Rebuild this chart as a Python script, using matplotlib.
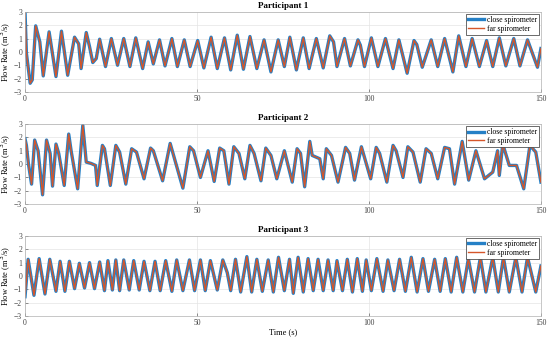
import numpy as np
import matplotlib
matplotlib.use("Agg")
import matplotlib.pyplot as plt

plt.rcParams['font.family'] = ['Liberation Serif', 'DejaVu Serif']

# Participant 1: turning points (time s, flow m^3/s)
t1 = [0, 0.4, 1.5, 2.1, 3.1, 4.3, 5.3, 7.0, 9.0, 10.6, 12.4, 14.4, 15.6, 16.3, 17.8,
      18.75, 19.7, 20.7, 21.7, 23.4, 25.1, 26.9, 28.7, 30.5, 32.2, 34.2, 35.8, 37.3,
      39.1, 40.7, 42.7, 44.3, 46.3, 48.0, 50.2, 52.0, 54.1, 55.9, 58.0, 59.8, 61.7,
      63.5, 65.4, 67.4, 69.5, 71.5, 73.6, 75.4, 77.0, 78.9, 80.9, 82.6, 84.7, 86.7,
      88.6, 89.7, 90.7, 92.9, 94.6, 96.8, 97.5, 98.7, 100.7, 102.6, 104.8, 107.0,
      108.7, 111.1, 113.1, 113.9, 115.5, 118.1, 120.0, 122.0, 124.4, 126.1, 128.2,
      130.0, 132.1, 134.2, 136.0, 137.9, 139.8, 142.1, 143.9, 146.1, 149.0, 150.0]
f1 = [3.0, -0.1, -2.35, -2.1, 1.95, 0.75, -1.8, 1.5, -1.85, 1.55, -1.75, 1.1, 0.6, -1.25, 1.45,
      0.4, -0.8, -0.5, 0.95, -1.1, 1.0, -1.0, 1.0, -1.1, 1.05, -1.25, 0.75, -0.9,
      0.9, -1.05, 1.0, -1.1, 0.9, -1.1, 0.85, -1.2, 1.1, -1.25, 1.05, -1.35, 1.25,
      -1.3, 1.15, -1.25, 0.9, -1.5, 0.9, -1.1, 1.1, -1.35, 1.05, -1.25, 1.0, -1.2,
      1.2, 0.75, -1.1, 1.0, -1.05, 0.9, 0.5, -1.1, 1.05, -1.1, 1.0, -1.25,
      0.9, -1.6, 0.85, 0.55, -1.15, 0.9, -1.1, 1.0, -1.5, 1.2, -1.1,
      1.0, -1.1, 0.85, -1.1, 1.05, -1.05, 1.0, -1.05, 0.9, -1.15, 0.25]

# Participant 2
t2 = [0, 0.4, 1.0, 1.9, 2.8, 3.8, 5.1, 6.25, 7.3, 8.0, 9.0, 9.8, 11.4, 12.7, 13.4, 15.3,
      16.8, 17.8, 19.2, 20.5, 21.0, 22.5, 23.1, 24.8, 26.4, 27.5, 29.3, 31.0, 32.4,
      34.6, 36.5, 37.3, 40.0, 42.2, 45.9, 47.9, 49.0, 51.0, 53.2, 55.0, 56.6, 57.8,
      59.3, 60.7, 62.2, 63.9, 65.4, 66.6, 68.6, 70.0, 71.5, 73.2, 75.4, 77.7, 79.1,
      80.1, 81.3, 82.8, 83.5, 85.7, 86.7, 87.6, 89.1, 91.0, 93.2, 94.4, 95.8, 97.8,
      100.5, 102.1, 103.1, 105.2, 107.0, 107.9, 109.9, 111.3, 112.8, 114.9, 116.6,
      118.1, 120.0, 122.0, 123.4, 124.9, 127.1, 129.0, 131.1, 133.6, 136.0, 137.4,
      137.9, 138.9, 140.8, 142.9, 145.0, 146.8, 148.5, 150.0]
f2 = [1.9, 1.4, 0.0, -1.5, 1.8, 1.0, -2.3, 1.8, 0.8, -1.65, 1.5, 0.8, -1.6, 2.25, 1.0, -1.85,
      2.9, 0.15, 0.05, -0.1, -1.6, 1.4, 1.15, -1.6, 1.4, 0.9, -1.5, 1.15, 0.9,
      -1.1, 1.2, 1.0, -1.25, 1.55, -1.8, 1.3, 1.0, -1.0, 1.0, -1.3, 1.2, 1.0,
      -1.5, 1.3, 0.8, -1.1, 1.4, 0.8, -1.25, 1.2, 0.65, -1.1, 1.0, -1.35, 1.15,
      0.8, -1.7, 1.7, 0.65, 0.4, -1.1, 1.15, 0.65, -1.35, 1.25, 0.8, -1.2, 1.3,
      -1.1, 1.25, 0.8, -1.35, 1.4, 1.0, -1.0, 1.3, 0.9, -1.35, 1.15,
      0.8, -1.1, 1.25, 1.15, -1.5, 1.7, -1.2, 1.0, -1.1, -0.6, 1.0,
      -0.85, 1.5, -0.1, -0.1, -1.85, 1.4, 0.9, -1.35]

# Participant 3
t3 = [0, 0.9, 2.6, 4.1, 5.8, 7.2, 9.0, 10.2, 11.6, 12.9, 14.4, 15.8, 17.3, 18.75, 20.2,
      21.7, 23.1, 24.1, 25.4, 26.4, 27.5, 28.7, 30.3, 31.6, 33.2, 34.6, 36.3, 37.8,
      39.3, 40.9, 42.7, 44.1, 45.9, 47.8, 49.3, 51.0, 52.4, 53.9, 55.9, 57.5, 58.8,
      59.8, 61.2, 62.7, 64.5, 65.9, 67.4, 69.0, 70.7, 72.2, 73.7, 75.4, 76.9, 78.0,
      79.4, 80.9, 82.3, 83.8, 85.2, 86.7, 88.1, 89.6, 90.7, 92.3, 93.7, 95.2, 96.6,
      98.1, 99.2, 100.7, 102.3, 104.1, 105.5, 107.3, 108.9, 110.6, 112.3, 114.0,
      115.7, 117.3, 119.1, 120.7, 122.2, 123.9, 125.5, 127.3, 128.9, 130.7, 132.4,
      134.0, 136.0, 137.6, 139.1, 140.8, 142.7, 144.5, 146.1, 148.5, 150.0]
f3 = [-1.55, 1.25, -1.45, 1.3, -1.35, 1.25, -1.15, 1.1, -1.15, 1.1, -0.95, 0.95, -0.9, 1.0, -0.95,
      1.05, -1.1, 1.15, -1.05, 1.2, -1.1, 1.2, -1.05, 1.15, -1.05, 1.1, -1.1, 1.1,
      -1.1, 1.15, -1.15, 1.2, -1.1, 1.2, -1.1, 1.2, -1.1, 1.15, -1.05, 1.2, 0.25,
      -1.1, 1.25, -1.2, 1.45, -1.2, 1.25, -1.15, 1.2, -1.2, 1.4, -1.1, 1.25, -1.3,
      1.4, -1.2, 1.3, -1.1, 1.25, -1.1, 1.2, -1.1, 1.15, -1.1, 1.25, -1.2, 1.3,
      -1.15, 1.2, -1.1, 1.3, -1.15, 1.2, -1.1, 1.25, -1.15, 1.4, -1.2,
      1.3, -1.15, 1.25, -1.15, 1.3, -1.2, 1.4, -1.2, 1.3, -1.2, 1.4,
      -1.2, 1.4, -1.2, 1.4, -1.2, 1.4, -1.2, 1.4, -1.2, 0.75]

participants = ['Participant 1', 'Participant 2', 'Participant 3']
times = [t1, t2, t3]
flows = [f1, f2, f3]

fig = plt.figure(figsize=(5.5, 3.38), dpi=100)
bottoms = [0.728, 0.396, 0.065]

for i in range(3):
    ax = fig.add_axes([0.0455, bottoms[i], 0.938, 0.237])
    ax.plot(times[i], flows[i], color='#2580C6', lw=2.4, label='close spirometer',
            solid_joinstyle='round')
    ax.plot(times[i], flows[i], color='#D5562A', lw=1.0, label='far spirometer',
            solid_joinstyle='round')
    ax.set_xlim(0, 150)
    ax.set_ylim(-3, 3)
    ax.set_xticks([0, 50, 100, 150])
    ax.set_yticks([-3, -2, -1, 0, 1, 2, 3])
    ax.grid(True, color='#e4e4e4', lw=0.5)
    ax.tick_params(direction='in', length=2, width=0.4, labelsize=5.5,
                   colors='#404040', pad=2)
    for s in ax.spines.values():
        s.set_color('#b0b0b0')
        s.set_linewidth(0.5)
    ax.set_title(participants[i], fontsize=6.5, fontweight='bold', pad=3)
    ax.set_ylabel('Flow Rate (m$^3$/s)', fontsize=6, labelpad=1)
    leg = ax.legend(loc='upper right', fontsize=5.5, handlelength=2.2,
                    borderaxespad=0.3, borderpad=0.25, labelspacing=0.1,
                    handletextpad=0.3, fancybox=False, framealpha=1)
    leg.get_frame().set_edgecolor('#303030')
    leg.get_frame().set_linewidth(0.5)
    if i == 2:
        ax.set_xlabel('Time (s)', fontsize=6, labelpad=1)

fig.savefig('out.png', dpi=100)
